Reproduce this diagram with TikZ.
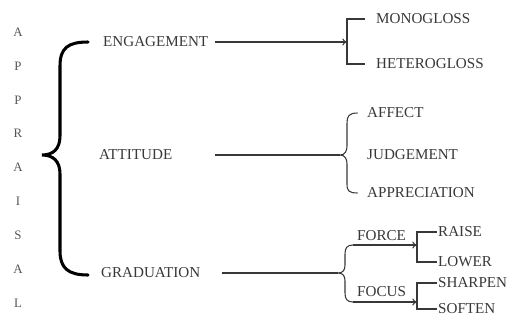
\documentclass[tikz,border=0pt]{standalone}
\usepackage{fontspec}
\setmainfont{Liberation Serif}
\usetikzlibrary{arrows.meta,positioning,calc}
\definecolor{inkgray}{HTML}{383838}

\begin{document}
\begin{tikzpicture}[x=0.03cm,y=-0.03cm,
    term/.style={font=\fontsize{12.9}{14}\selectfont,text=inkgray,inner sep=0pt,anchor=west},
    letter/.style={font=\fontsize{11}{13}\selectfont,text=inkgray!85,inner sep=0pt},
    link/.style={draw=inkgray,line width=0.9pt},
    tip/.style={-{To[length=4pt,width=6pt]}}
  ]
    \useasboundingbox (0,0) rectangle (507,322);

    % APPRAISAL, one letter per row
    \foreach \ch [count=\i] in {A,P,P,R,A,I,S,A,L}
      \node[letter] (ap\i) at (18,{32+33.9*(\i-1)}) {\ch};

    % big brace
    \draw[line width=2.6pt,line cap=round] (88,42) .. controls (68,42) and (60,48) .. (60,66) -- (60,136)
      .. controls (60,149) and (53,155) .. (42,155) .. controls (53,155) and (60,161) .. (60,174) -- (60,251)
      .. controls (60,268) and (68,275) .. (88,275);

    % main categories
    \node[term] (eng) at (103,42) {ENGAGEMENT};
    \node[term] (att) at (99,155) {ATTITUDE};
    \node[term] (grad) at (101,273) {GRADUATION};

    % ENGAGEMENT branch
    \coordinate (engfork) at (347,42);
    \node[term] (mono) at (376,19) {MONOGLOSS};
    \node[term] (hetero) at (376,64) {HETEROGLOSS};
    \draw[link,tip] ([xshift=6pt]eng.east) -- (engfork);
    \draw[link] ([xshift=-9pt]mono.west) -| (engfork) |- ([xshift=-9pt]hetero.west);

    % ATTITUDE branch
    \coordinate (attfork) at (340,155);
    \node[term] (affect) at (367,113) {AFFECT};
    \node[term] (judge) at (367,155) {JUDGEMENT};
    \node[term] (apprec) at (367,193) {APPRECIATION};
    \draw[link] ($(eng.east |- att.east)+(6pt,0)$) -- (attfork);
    \draw[link] ([xshift=-8pt]affect.west) .. controls (349,113) and (347,116) .. (347,123) -- (347,146)
      .. controls (347,151) and (345,155) .. (attfork) .. controls (345,155) and (347,159) .. (347,164) -- (347,184)
      .. controls (347,191) and (349,193) .. ([xshift=-8pt]apprec.west);

    % GRADUATION branch
    \coordinate (gradfork) at (338,273);
    \coordinate (forcestart) at (353,245);
    \coordinate (focusstart) at (353,302);
    \coordinate (forcefork) at (417,245);
    \coordinate (focusfork) at (417,302);
    \node[term] (force) at (357,236) {FORCE};
    \node[term] (focus) at (357,292) {FOCUS};
    \draw[link] ([xshift=18pt]grad.east) -- (gradfork);
    \draw[link] (forcestart) .. controls (347,245) and (345,248) .. (345,254) -- (345,265)
      .. controls (345,270) and (343,273) .. (gradfork) .. controls (343,273) and (345,276) .. (345,281) -- (345,293)
      .. controls (345,299) and (347,302) .. (focusstart);
    \draw[link,tip] (forcestart) -- (forcefork);
    \draw[link,tip] (focusstart) -- (focusfork);

    % FORCE and FOCUS leaves
    \node[term] (raise) at (438,232) {RAISE};
    \node[term] (lower) at (438,262) {LOWER};
    \node[term] (sharpen) at (438,283) {SHARPEN};
    \node[term] (soften) at (438,309) {SOFTEN};
    \draw[link] ([xshift=-1pt]raise.west) -| (forcefork) |- ([xshift=-1pt]lower.west);
    \draw[link] ([xshift=-1pt]sharpen.west) -| (focusfork) |- ([xshift=-1pt]soften.west);
  \end{tikzpicture}
\end{document}
